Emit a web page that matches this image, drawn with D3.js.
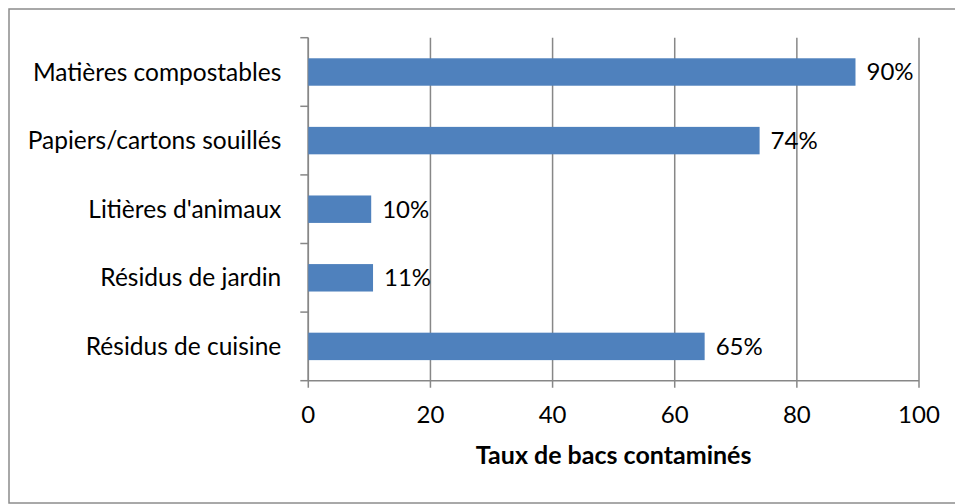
<!DOCTYPE html>
<html>
<head>
<meta charset="utf-8">
<script src="https://cdn.jsdelivr.net/npm/d3@7"></script>
<style>
  body { margin: 0; background: #fff; }
  text { font-family: Lato, "Open Sans", sans-serif; fill: #000; }
</style>
</head>
<body>
<svg id="chart"></svg>
<script>
(function() {
    // categories, top to bottom
    const categories = ["Matières compostables", "Papiers/cartons souillés", "Litières d'animaux", "Résidus de jardin", "Résidus de cuisine"]
    // share of bins contaminated (%)
    const values = [89.6, 73.9, 10.3, 10.6, 64.9]
    const xTicks = [0, 20, 40, 60, 80, 100]
    const xTitle = "Taux de bacs contaminés"

    const width = 955
    const height = 504
    const margin = {top: 37.7, right: 36, bottom: 123.3, left: 308.3}

    var svg = d3.select("#chart")
        .attr("width", width)
        .attr("height", height)

    // outer frame (right edge falls outside the picture)
    svg.append("rect")
        .attr("x", 9).attr("y", 9)
        .attr("width", 960).attr("height", 494)
        .attr("fill", "none")
        .attr("stroke", "#8c8c8c")
        .attr("stroke-width", 1.5)

    var x = d3.scaleLinear()
        .domain([0, 100])
        .range([margin.left, width - margin.right])

    var y = d3.scaleBand()
        .domain(categories)
        .range([margin.top, height - margin.bottom])
        .paddingInner(0.6)
        .paddingOuter(0.3)

    // band edges for the category tick marks
    var yEdges = d3.scaleLinear()
        .domain([0, categories.length])
        .range([margin.top, height - margin.bottom])

    // vertical grid lines
    svg.append("g")
        .selectAll("line")
        .data(xTicks)
        .enter()
        .append("line")
        .attr("x1", (d) => x(d)).attr("x2", (d) => x(d))
        .attr("y1", margin.top).attr("y2", height - margin.bottom + 7)
        .attr("stroke", "#878787")
        .attr("stroke-width", 1.5)

    // left axis line + ticks
    var yAxis = svg.append("g")
    yAxis.append("line")
        .attr("x1", x(0)).attr("x2", x(0))
        .attr("y1", margin.top).attr("y2", height - margin.bottom)
        .attr("stroke", "#878787").attr("stroke-width", 1.5)
    yAxis.selectAll("line.tick")
        .data(d3.range(categories.length + 1))
        .enter()
        .append("line")
        .attr("class", "tick")
        .attr("x1", x(0) - 8).attr("x2", x(0))
        .attr("y1", (d) => yEdges(d)).attr("y2", (d) => yEdges(d))
        .attr("stroke", "#878787").attr("stroke-width", 1.5)

    // bottom axis line
    svg.append("line")
        .attr("x1", x(0)).attr("x2", x(100))
        .attr("y1", height - margin.bottom).attr("y2", height - margin.bottom)
        .attr("stroke", "#878787").attr("stroke-width", 1.5)

    // bars
    svg.append("g")
        .selectAll("rect")
        .data(values)
        .enter()
        .append("rect")
        .attr("x", x(0))
        .attr("y", (d, i) => y(categories[i]))
        .attr("width", (d) => x(d) - x(0))
        .attr("height", y.bandwidth())
        .attr("fill", "#4f81bd")

    // value labels
    svg.append("g")
        .selectAll("text")
        .data(values)
        .enter()
        .append("text")
        .attr("x", (d) => x(d) + 11)
        .attr("y", (d, i) => y(categories[i]) + y.bandwidth() / 2)
        .attr("dy", "0.35em")
        .style("font-size", "24px")
        .text((d) => Math.round(d) + "%")

    // category labels
    svg.append("g")
        .selectAll("text")
        .data(categories)
        .enter()
        .append("text")
        .attr("x", x(0) - 27)
        .attr("y", (d) => y(d) + y.bandwidth() / 2)
        .attr("dy", "0.35em")
        .attr("text-anchor", "end")
        .style("font-size", "24.5px")
        .text((d) => d)

    // x tick labels
    svg.append("g")
        .selectAll("text")
        .data(xTicks)
        .enter()
        .append("text")
        .attr("x", (d) => x(d))
        .attr("y", 415)
        .attr("dy", "0.35em")
        .attr("text-anchor", "middle")
        .style("font-size", "24px")
        .text((d) => d)

    // axis title
    svg.append("text")
        .attr("x", (x(0) + x(100)) / 2)
        .attr("y", 455)
        .attr("dy", "0.35em")
        .attr("text-anchor", "middle")
        .style("font-size", "25px")
        .style("font-weight", "bold")
        .text(xTitle)
})();
</script>
</body>
</html>
